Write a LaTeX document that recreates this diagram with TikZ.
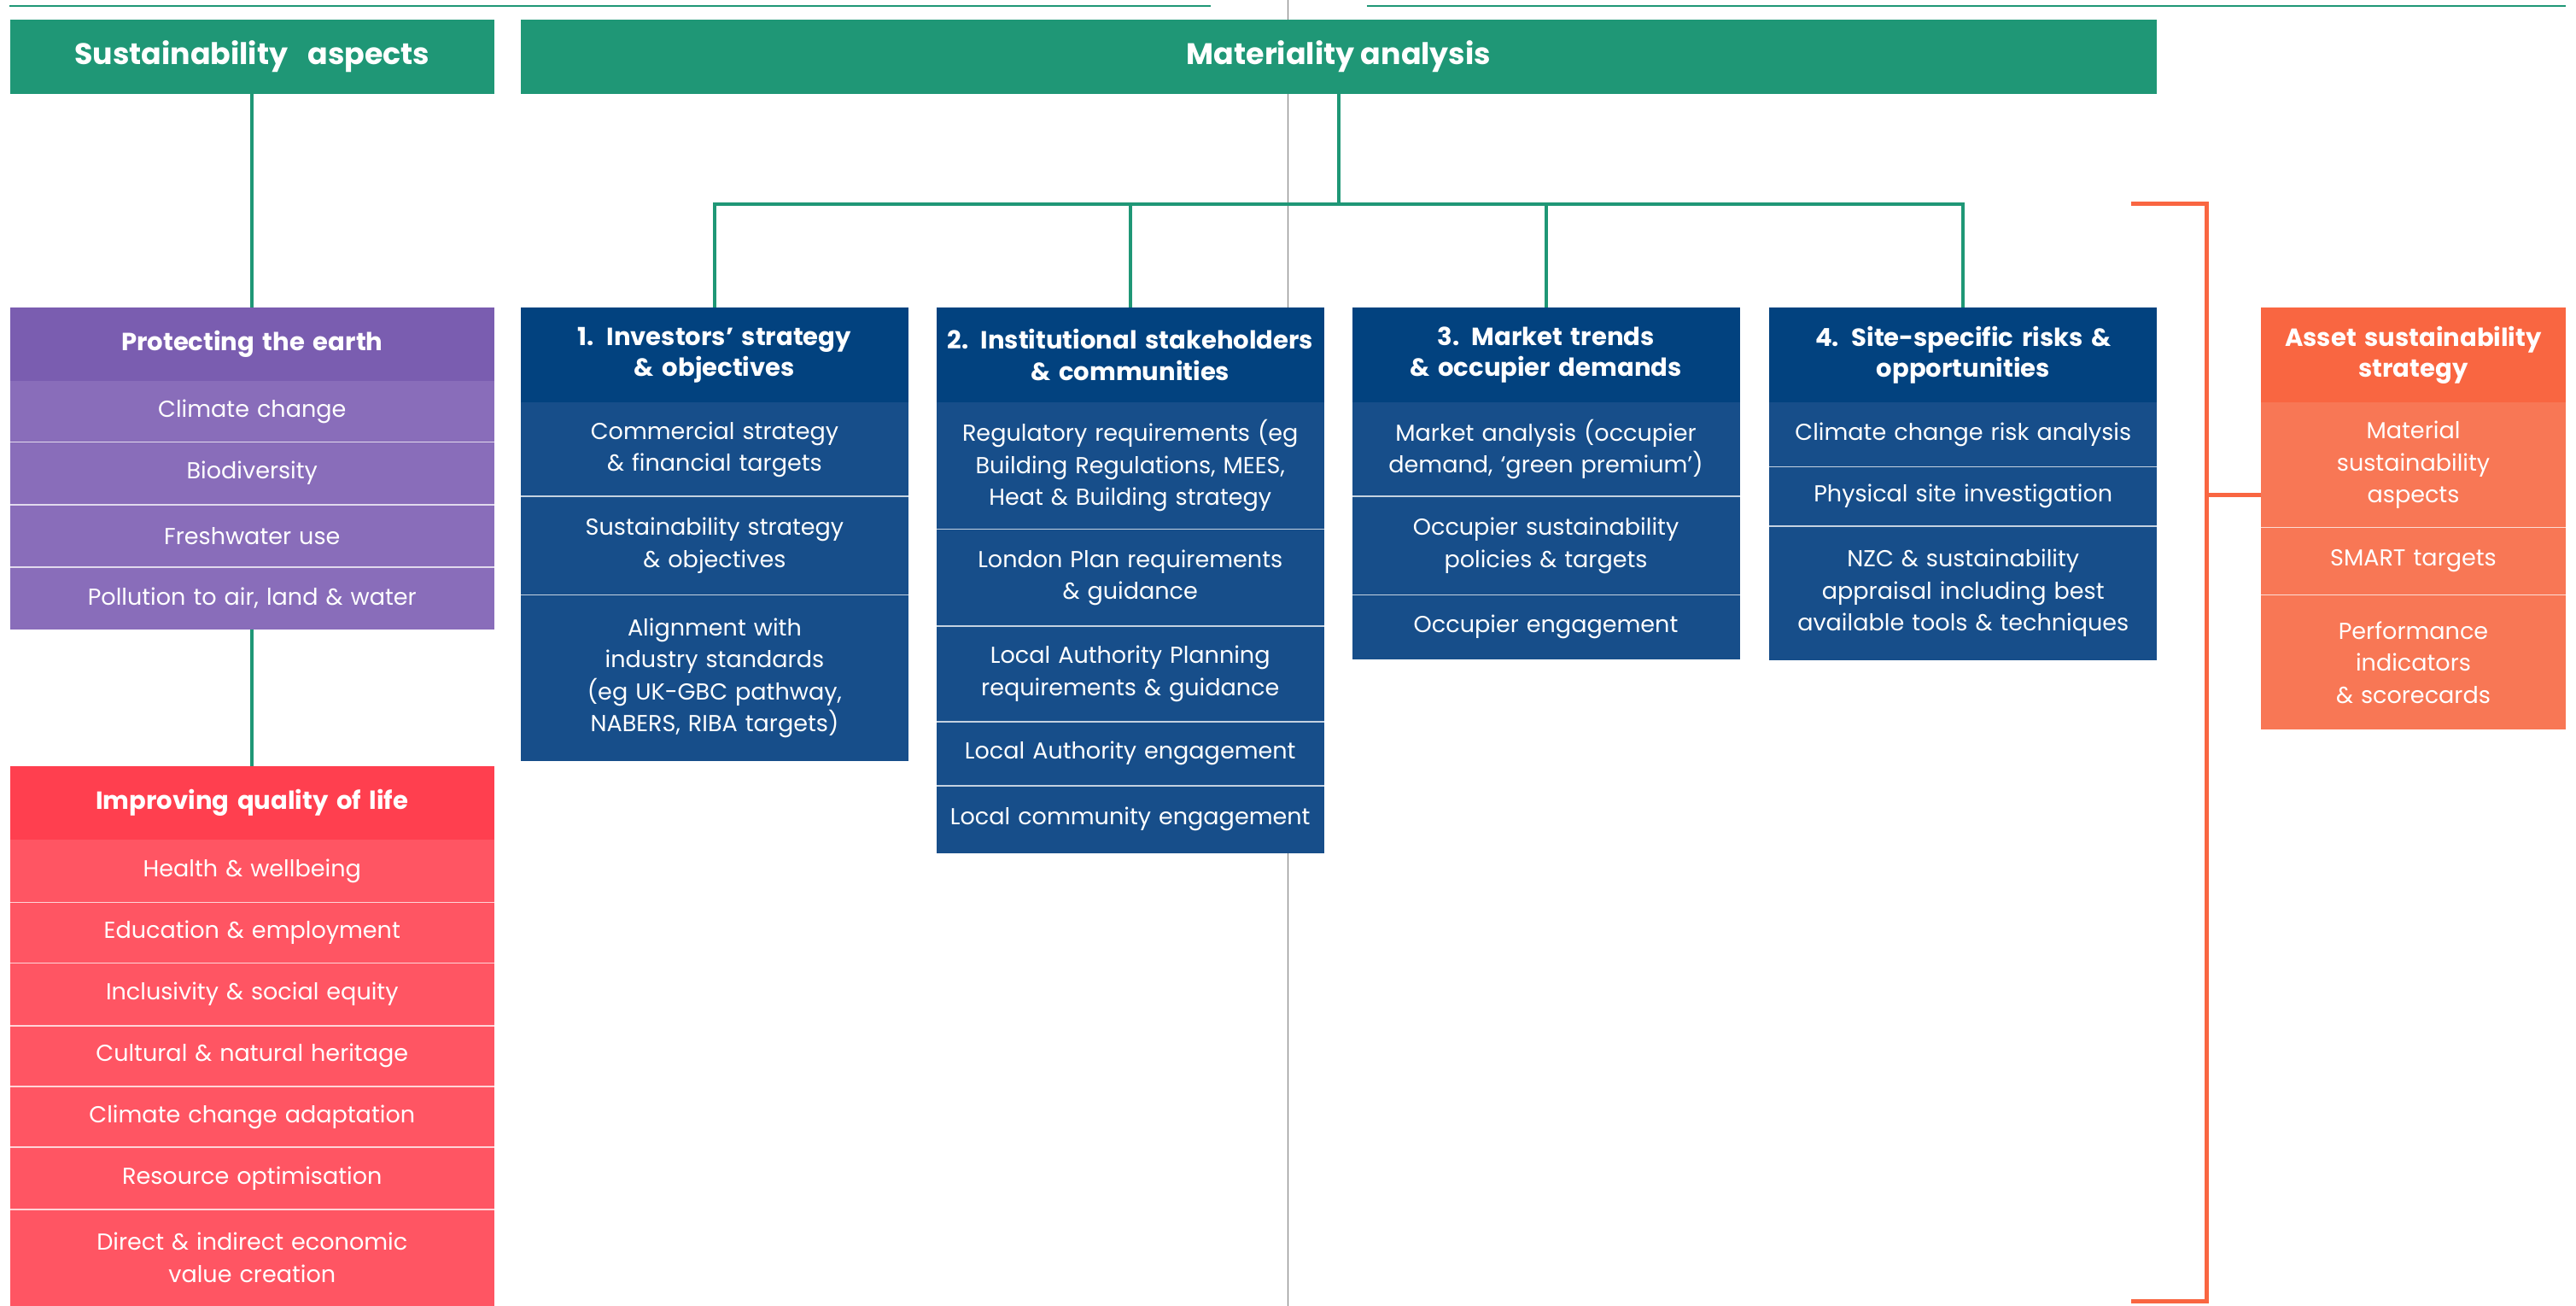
\documentclass[tikz,border=0pt]{standalone}
\usepackage{fontspec}
\setmainfont{Poppins}
\usetikzlibrary{positioning}

\definecolor{sgreen}{HTML}{1F9776}
\definecolor{earthhead}{HTML}{7A5DB0}
\definecolor{earthitem}{HTML}{896DBA}
\definecolor{lifehead}{HTML}{FF3F4F}
\definecolor{lifeitem}{HTML}{FF5563}
\definecolor{bluehead}{HTML}{02427F}
\definecolor{blueitem}{HTML}{174E8A}
\definecolor{assethead}{HTML}{F96641}
\definecolor{assetitem}{HTML}{F87755}
\definecolor{rulegrey}{HTML}{7A7A7A}

\newcommand\titlefont{\bfseries\fontsize{10.3}{12}\selectfont}
\newcommand\headfont{\bfseries\fontsize{8.6}{10.8}\selectfont}
\newcommand\itemfont{\fontsize{8}{11.1}\selectfont}

\tikzset{
  box/.style={rectangle, inner sep=0pt, outer sep=0pt, text=white, align=center},
  tall/.style={minimum height=#1*0.02cm},
  title/.style={box, fill=sgreen, font=\titlefont, tall=45},
  head/.style={box, font=\headfont},
  item/.style={box, font=\itemfont},
  wide/.style={minimum width=5.9cm, text width=5.6cm},
  col/.style={minimum width=4.72cm, text width=4.6cm},
  narrow/.style={minimum width=3.72cm, text width=3.6cm},
  tree/.style={draw=sgreen, line width=1.2pt},
  bracket/.style={draw=assethead, line width=1.5pt, line join=miter},
  divider/.style={draw=rulegrey, line width=0.55pt},
  sepline/.style={draw=white, draw opacity=0.75, line width=0.5pt},
}

\begin{document}
\begin{tikzpicture}[x=0.02cm, y=-0.02cm]
\useasboundingbox (0,0) rectangle (1568,794.6);

% rules along the top and the grey divider behind everything
\draw[sgreen, line width=0.75pt] (5.6,3.7) -- (737,3.7) (832,3.7) -- (1562,3.7);
\draw[divider] (784,0) -- (784,794.6);

% titles
\node[title, wide, anchor=north west] (sust) at (6,12) {Sustainability\ \ aspects};
\node[title, minimum width=19.92cm, anchor=north west] (mata) at (317,12) {Materiality analysis};

% sustainability aspects
\node[head, wide, fill=earthhead, tall=45, anchor=north west] (earth) at (6,187) {Protecting the earth};
\node[item, wide, fill=earthitem, tall=37, below=0pt of earth] (earth1) {Climate change};
\node[item, wide, fill=earthitem, tall=38, below=0pt of earth1] (earth2) {Biodiversity};
\node[item, wide, fill=earthitem, tall=38, below=0pt of earth2] (earth3) {Freshwater use};
\node[item, wide, fill=earthitem, tall=38, below=0pt of earth3] (earth4) {Pollution to air, land \& water};

\node[head, wide, fill=lifehead, tall=45, anchor=north west] (life) at (6,466) {Improving quality of life};
\node[item, wide, fill=lifeitem, tall=38, below=0pt of life] (life1) {Health \& wellbeing};
\node[item, wide, fill=lifeitem, tall=37, below=0pt of life1] (life2) {Education \& employment};
\node[item, wide, fill=lifeitem, tall=38, below=0pt of life2] (life3) {Inclusivity \& social equity};
\node[item, wide, fill=lifeitem, tall=37, below=0pt of life3] (life4) {Cultural \& natural heritage};
\node[item, wide, fill=lifeitem, tall=37, below=0pt of life4] (life5) {Climate change adaptation};
\node[item, wide, fill=lifeitem, tall=38, below=0pt of life5] (life6) {Resource optimisation};
\node[item, wide, fill=lifeitem, tall=58.6, below=0pt of life6] (life7) {Direct \& indirect economic\\value creation};

% materiality columns
\node[head, col, fill=bluehead, tall=58, anchor=north west] (inv) at (317,187) {1. Investors’ strategy\\\& objectives};
\node[item, col, fill=blueitem, tall=57, below=0pt of inv] (inv1) {Commercial strategy\\\& financial targets};
\node[item, col, fill=blueitem, tall=60, below=0pt of inv1] (inv2) {Sustainability strategy\\\& objectives};
\node[item, col, fill=blueitem, tall=101, below=0pt of inv2] (inv3) {Alignment with\\industry standards\\(eg UK-GBC pathway,\\NABERS, RIBA targets)};

\node[head, col, fill=bluehead, tall=58, anchor=north west] (inst) at (570,187) {2. Institutional stakeholders\\\& communities};
\node[item, col, fill=blueitem, tall=77, below=0pt of inst] (inst1) {Regulatory requirements (eg\\Building Regulations, MEES,\\Heat \& Building strategy};
\node[item, col, fill=blueitem, tall=59, below=0pt of inst1] (inst2) {London Plan requirements\\\& guidance};
\node[item, col, fill=blueitem, tall=58, below=0pt of inst2] (inst3) {Local Authority Planning\\requirements \& guidance};
\node[item, col, fill=blueitem, tall=39, below=0pt of inst3] (inst4) {Local Authority engagement};
\node[item, col, fill=blueitem, tall=41, below=0pt of inst4] (inst5) {Local community engagement};

\node[head, col, fill=bluehead, tall=58, anchor=north west] (mkt) at (823,187) {3. Market trends\\\& occupier demands};
\node[item, col, fill=blueitem, tall=57, below=0pt of mkt] (mkt1) {Market analysis (occupier\\demand, ‘green premium’)};
\node[item, col, fill=blueitem, tall=60, below=0pt of mkt1] (mkt2) {Occupier sustainability\\policies \& targets};
\node[item, col, fill=blueitem, tall=39, below=0pt of mkt2] (mkt3) {Occupier engagement};

\node[head, col, fill=bluehead, tall=58, anchor=north west] (site) at (1077,187) {4. Site-specific risks \&\\opportunities};
\node[item, col, fill=blueitem, tall=39, below=0pt of site] (site1) {Climate change risk analysis};
\node[item, col, fill=blueitem, tall=36, below=0pt of site1] (site2) {Physical site investigation};
\node[item, col, fill=blueitem, tall=82, below=0pt of site2] (site3) {NZC \& sustainability\\appraisal including best\\available tools \& techniques};

% strategy
\node[head, narrow, fill=assethead, tall=58, anchor=north west] (asset) at (1376,187) {Asset sustainability\\strategy};
\node[item, narrow, fill=assetitem, tall=76, below=0pt of asset] (asset1) {Material\\sustainability\\aspects};
\node[item, narrow, fill=assetitem, tall=41, below=0pt of asset1] (asset2) {SMART targets};
\node[item, narrow, fill=assetitem, tall=82, below=0pt of asset2] (asset3) {Performance\\indicators\\\& scorecards};

% thin rules between the items
\foreach \n in {earth2,earth3,earth4,life2,life3,life4,life5,life6,life7,
  inv2,inv3,inst2,inst3,inst4,inst5,mkt2,mkt3,site2,site3,asset2,asset3}
  \draw[sepline] (\n.north west) -- (\n.north east);

% connectors
\coordinate (bar) at (0,124);
\draw[tree] (sust.south) -- (earth.north);
\draw[tree] (earth4.south) -- (life.north);
\draw[tree] (mata.south) -- (mata.south |- bar);
\draw[tree] (inv.north) -- (inv.north |- bar) -- (site.north |- bar) -- (site.north);
\draw[tree] (inst.north) -- (inst.north |- bar);
\draw[tree] (mkt.north) -- (mkt.north |- bar);

% bracket into the strategy
\coordinate (brtop) at (1297,124);
\coordinate (brbot) at (1297,792);
\coordinate (brmid) at (1343,301);
\draw[bracket] (brtop) -- (brmid |- brtop) -- (brmid |- brbot) -- (brbot);
\draw[bracket] (brmid) -- (brmid -| asset1.west);
\end{tikzpicture}
\end{document}
